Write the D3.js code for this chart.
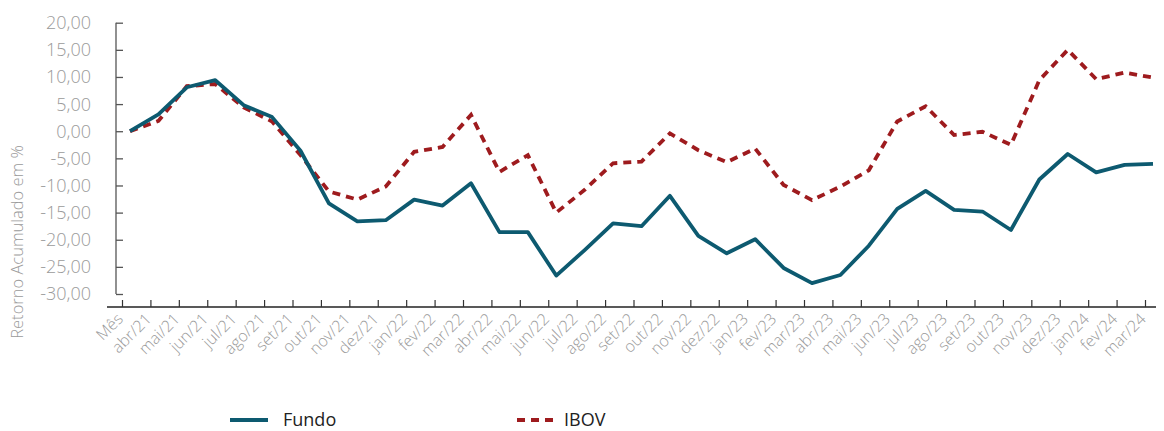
<!DOCTYPE html>
<html><head><meta charset="utf-8">
<script src="https://cdn.jsdelivr.net/npm/d3@7/dist/d3.min.js"></script>
<style>
html,body{margin:0;padding:0;background:#fff;}
svg{display:block;font-family:"Open Sans","Noto Sans",sans-serif;}
</style></head>
<body><svg id="chart" width="1164" height="431"></svg>
<script>
const categories = ["Mês","abr/21","mai/21","jun/21","jul/21","ago/21","set/21","out/21","nov/21","dez/21",
"jan/22","fev/22","mar/22","abr/22","mai/22","jun/22","jul/22","ago/22","set/22","out/22","nov/22","dez/22",
"jan/23","fev/23","mar/23","abr/23","mai/23","jun/23","jul/23","ago/23","set/23","out/23","nov/23","dez/23",
"jan/24","fev/24","mar/24"];
const fundo = [0,3.1,8.1,9.4,4.8,2.6,-3.6,-13.3,-16.6,-16.4,
-12.6,-13.7,-9.6,-18.6,-18.6,-26.6,-21.9,-17.0,-17.5,-11.9,-19.3,-22.5,
-19.9,-25.2,-28.0,-26.5,-21.1,-14.3,-11.0,-14.5,-14.8,-18.2,-8.9,-4.2,
-7.6,-6.2,-6.0];
const ibov = [0,1.9,8.3,8.7,4.4,1.8,-4.4,-11.1,-12.6,-10.2,
-3.8,-2.9,3.0,-7.5,-4.4,-15.0,-10.8,-5.9,-5.6,-0.4,-3.5,-5.7,
-3.2,-9.9,-12.7,-10.2,-7.2,1.8,4.6,-0.7,-0.1,-2.5,9.4,15.0,
9.6,10.8,9.9];
const yTicks = [20,15,10,5,0,-5,-10,-15,-20,-25,-30];
const seriesNames = ["Fundo","IBOV"];
const yTitle = "Retorno Acumulado em %";

const svg = d3.select("#chart");
const fmt = d3.formatLocale({decimal:",",thousands:".",grouping:[3],currency:["R$",""],minus:"-"}).format(".2f");

const x = d3.scalePoint().domain(categories).range([130,1153]);
const y = d3.scaleLinear().domain([-30,20]).range([294,22.7]);
const grey = "#9a9a9a";

// Y axis
const yAxis = d3.axisRight(y).tickValues(yTicks).tickSize(7).tickFormat("");
const gy = svg.append("g").attr("transform","translate(116,0)").call(yAxis);
gy.select(".domain").attr("stroke","#555").attr("stroke-width",1.3).attr("d","M0,"+y(20)+"V"+y(-30));
gy.selectAll(".tick line").attr("stroke","#555").attr("stroke-width",1.3);
svg.append("g").selectAll("text").data(yTicks).join("text")
  .attr("x",91).attr("y",d=>y(d)).attr("dy","0.36em").attr("text-anchor","end")
  .attr("fill",grey).attr("font-size",18).attr("font-weight",300).text(d=>fmt(d));

// Y title
svg.append("text").attr("transform","translate(23,242) rotate(-90)").attr("text-anchor","middle")
  .attr("fill",grey).attr("font-size",16.5).attr("font-weight",300).text(yTitle);

// X axis
const xOff = -8;
const axisY = 307;
const xAxis = d3.axisTop(x).tickSize(7).tickFormat("");
const gx = svg.append("g").attr("transform","translate("+xOff+","+axisY+")").call(xAxis);
gx.select(".domain").attr("stroke","#222").attr("stroke-width",1.3).attr("d","M"+(107-xOff)+",0H"+(1156-xOff));
gx.selectAll(".tick line").attr("stroke","#333").attr("stroke-width",1.2);
svg.append("g").selectAll("text").data(categories).join("text")
  .attr("transform",d=>"translate("+(x(d)+xOff+2)+","+(axisY+13)+") rotate(-45)")
  .attr("text-anchor","end").attr("fill",grey).attr("font-size",16).attr("font-weight",300).text(d=>d);

// Lines
const line = d3.line().x((d,i)=>x(categories[i])).y(d=>y(d));
svg.append("path").datum(ibov).attr("d",line).attr("fill","none")
  .attr("stroke","#9e1b1e").attr("stroke-width",3.8).attr("stroke-dasharray","8,6");
svg.append("path").datum(fundo).attr("d",line).attr("fill","none")
  .attr("stroke","#0d5a70").attr("stroke-width",3.8).attr("stroke-linejoin","round");

// Legend
const leg = [{name:seriesNames[0],x:230,color:"#0d5a70",dash:null},{name:seriesNames[1],x:517,color:"#9e1b1e",dash:"8,6"}];
const lg = svg.append("g").selectAll("g").data(leg).join("g");
lg.append("line").attr("x1",d=>d.x).attr("x2",d=>d.x+38).attr("y1",420).attr("y2",420)
  .attr("stroke",d=>d.color).attr("stroke-width",3.8).attr("stroke-dasharray",d=>d.dash);
lg.append("text").attr("x",(d,i)=>d.x+(i===0?53:47)).attr("y",426).attr("font-size",18)
  .attr("fill","#222").text(d=>d.name);
</script></body></html>
